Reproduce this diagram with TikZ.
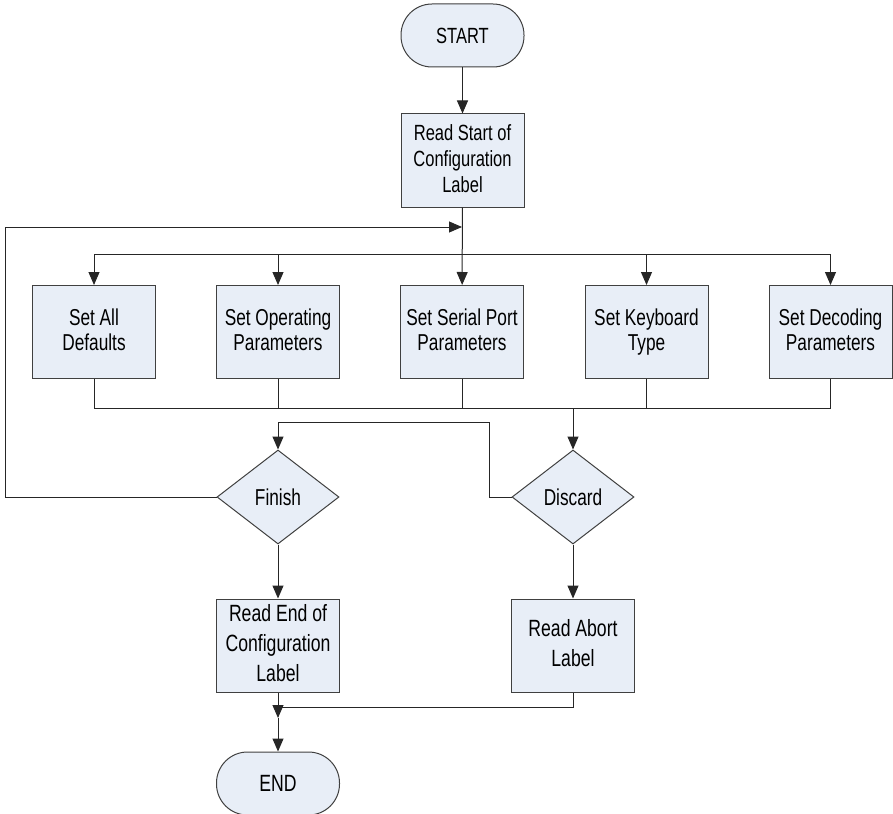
\documentclass[tikz,border=0pt]{standalone}
\usepackage{fontspec}
\setmainfont{Liberation Sans}[FakeStretch=0.75]
\usetikzlibrary{arrows.meta,shapes.geometric}
\definecolor{boxfill}{RGB}{232,238,247}
\definecolor{boxline}{RGB}{64,64,64}
\tikzset{
  shapebase/.style={draw=boxline,line width=1pt,fill=boxfill,inner sep=0pt,align=center,
    execute at begin node={\rule{0pt}{0.93em}},execute at end node={\rule[-0.21em]{0pt}{0pt}}},
  procbox/.style={shapebase,rectangle,minimum width=123pt,minimum height=93pt,font=\fontsize{23}{25.5}\selectfont},
  lowbox/.style={procbox,font=\fontsize{23.5}{30}\selectfont},
  termbox/.style={shapebase,rectangle,rounded corners=31pt,minimum width=123pt,minimum height=63pt,font=\fontsize{22}{26}\selectfont},
  decbox/.style={shapebase,diamond,aspect=1.3,minimum width=122pt,minimum height=94pt,font=\fontsize{23}{26}\selectfont},
  conn/.style={draw=black!85,line width=1pt},
  arr/.style={conn,-{Triangle[length=13pt,width=11pt]}}
}
\begin{document}
\begin{tikzpicture}[x=1pt,y=-1pt]
\useasboundingbox (0,0) rectangle (893,813);
% nodes
\node[termbox] (start) at (462.5,35.5) {START};
\node[procbox,font=\fontsize{22}{26}\selectfont] (rs) at (462.5,160.5) {Read Start of\\Configuration\\Label};
\node[procbox] (b1) at (94,332) {Set All\\Defaults};
\node[procbox] (b2) at (278,332) {Set Operating\\Parameters};
\node[procbox] (b3) at (462,332) {Set Serial Port\\Parameters};
\node[procbox] (b4) at (646.5,332) {Set Keyboard\\Type};
\node[procbox] (b5) at (830.5,332) {Set Decoding\\Parameters};
\node[decbox] (fin) at (278,497) {Finish};
\node[decbox] (dis) at (573,497) {Discard};
\node[lowbox] (re) at (278,645.5) {Read End of\\Configuration\\Label};
\node[lowbox] (ra) at (573,645.5) {Read Abort\\Label};
\node[termbox,font=\fontsize{23.5}{26}\selectfont] (end) at (278,783.5) {END};
% coordinates
\coordinate (t1) at (94,254);
\coordinate (t2) at (278,254);
\coordinate (t4) at (646.5,254);
\coordinate (t5) at (830.5,254);
\coordinate (u1) at (94,408);
\coordinate (u2) at (278,408);
\coordinate (u3) at (462,408);
\coordinate (u4) at (646.5,408);
\coordinate (u5) at (830.5,408);
\coordinate (ud) at (573,408);
\coordinate (lp) at (462,227);
\coordinate (lpa) at (5,227);
\coordinate (lpb) at (5,497);
\coordinate (da) at (489,497);
\coordinate (db) at (489,422);
\coordinate (dc) at (278,422);
\coordinate (ja) at (278,718);
\coordinate (jb) at (573,707);
\coordinate (jc) at (278,707);
% connectors
\draw[arr] (start) -- (rs);
\draw[arr] (rs) -- (b3);
\draw[conn] (t1) -- (t5);
\draw[arr] (t1) -- (b1);
\draw[arr] (t2) -- (b2);
\draw[arr] (t4) -- (b4);
\draw[arr] (t5) -- (b5);
\draw[conn] (b1) -- (u1);
\draw[conn] (b2) -- (u2);
\draw[conn] (b3) -- (u3);
\draw[conn] (b4) -- (u4);
\draw[conn] (b5) -- (u5);
\draw[conn] (u1) -- (u5);
\draw[arr] (ud) -- (dis);
\draw[arr] (fin.west) -- (lpb) -- (lpa) -- (lp);
\draw[arr] (dis.west) -- (da) -- (db) -- (dc) -- (fin.north);
\draw[arr] (fin) -- (re);
\draw[arr] (dis) -- (ra);
\draw[arr] (re) -- (ja);
\draw[conn] (ra) -- (jb) -- (jc);
\draw[arr] (ja) -- (end);
\end{tikzpicture}
\end{document}
